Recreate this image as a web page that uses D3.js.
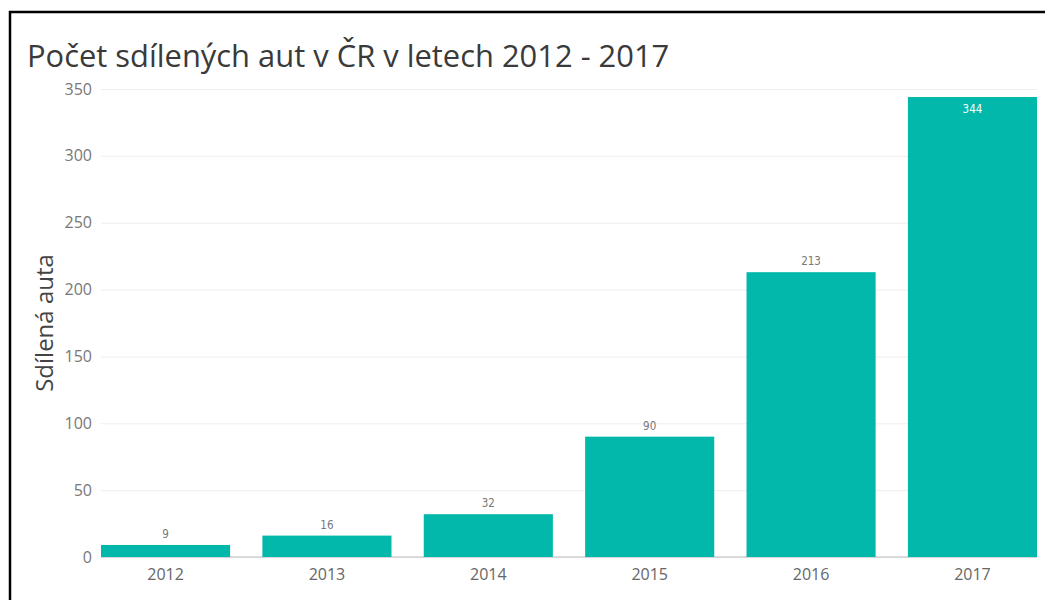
<!DOCTYPE html>
<html>
<head>
<meta charset="utf-8">
<script src="https://cdn.jsdelivr.net/npm/d3@7"></script>
<style>
  body { margin: 0; background: #fff; }
  svg { display: block; }
</style>
</head>
<body>
<svg id="chart" width="1045" height="600"></svg>
<script>
// data
var years = ["2012", "2013", "2014", "2015", "2016", "2017"];
var cars = [9, 16, 32, 90, 213, 344];
var yTicks = [0, 50, 100, 150, 200, 250, 300, 350];

var svg = d3.select("#chart");
var margin = {top: 89, right: 8, bottom: 43, left: 101};
var width = 1045 - margin.left - margin.right;
var height = 600 - margin.top - margin.bottom;

// frame (left and top edge only, rest is cut off)
svg.append("path")
    .attr("d", "M10,600 L10,12 L1045,12")
    .attr("fill", "none")
    .attr("stroke", "#000")
    .attr("stroke-width", 2.5);

svg.append("text")
    .attr("x", 27)
    .attr("y", 67)
    .attr("font-family", "Open Sans")
    .attr("font-size", 30.9)
    .attr("fill", "#3a3a3a")
    .text("Počet sdílených aut v ČR v letech 2012 - 2017");

var g = svg.append("g")
    .attr("transform", "translate(" + margin.left + "," + margin.top + ")");

var x = d3.scaleBand().range([0, width]).paddingInner(0.2).paddingOuter(0)
    .domain(years);
var y = d3.scaleLinear().range([height, 0]).domain([0, 350]);

// gridlines
g.append("g")
    .attr("class", "grid")
    .call(d3.axisLeft(y).tickValues(yTicks).tickSize(-width).tickFormat(""))
    .call(function(s) {
        s.select(".domain").remove();
        s.selectAll("line").attr("stroke", "#eee").attr("stroke-width", 1);
    });

// y tick labels
g.append("g")
    .attr("class", "axis y")
    .call(d3.axisLeft(y).tickValues(yTicks).tickSize(0).tickPadding(9))
    .call(function(s) {
        s.select(".domain").remove();
        s.selectAll("text")
            .attr("font-family", "Open Sans")
            .attr("font-size", 16)
            .attr("fill", "#777");
    });

// baseline
g.append("line")
    .attr("x1", 0).attr("x2", width)
    .attr("y1", height).attr("y2", height)
    .attr("stroke", "#bbb");

g.selectAll(".bar")
    .data(cars)
    .enter().append("rect")
    .attr("class", "bar")
    .attr("x", function(d, i) { return x(years[i]); })
    .attr("y", function(d) { return y(d); })
    .attr("width", x.bandwidth())
    .attr("height", function(d) { return height - y(d); })
    .attr("fill", "#01B8AA");

// value labels, the top one sits inside the bar
g.selectAll(".val")
    .data(cars)
    .enter().append("text")
    .attr("class", "val")
    .attr("x", function(d, i) { return x(years[i]) + x.bandwidth() / 2; })
    .attr("y", function(d) { return d > 300 ? y(d) + 16 : y(d) - 7; })
    .attr("text-anchor", "middle")
    .attr("font-family", "DejaVu Sans Condensed")
    .attr("font-size", 11.5)
    .attr("fill", function(d) { return d > 300 ? "#fff" : "#777"; })
    .text(function(d) { return d; });

// x axis
g.append("g")
    .attr("class", "axis x")
    .attr("transform", "translate(0," + height + ")")
    .call(d3.axisBottom(x).tickSize(0).tickPadding(12))
    .call(function(s) {
        s.select(".domain").remove();
        s.selectAll("text")
            .attr("font-family", "Open Sans")
            .attr("font-size", 16)
            .attr("fill", "#666");
    });

// y axis title
svg.append("text")
    .attr("transform", "translate(53," + (margin.top + height / 2) + ") rotate(-90)")
    .attr("text-anchor", "middle")
    .attr("font-family", "Open Sans")
    .attr("font-size", 24)
    .attr("fill", "#444")
    .text("Sdílená auta");
</script>
</body>
</html>
